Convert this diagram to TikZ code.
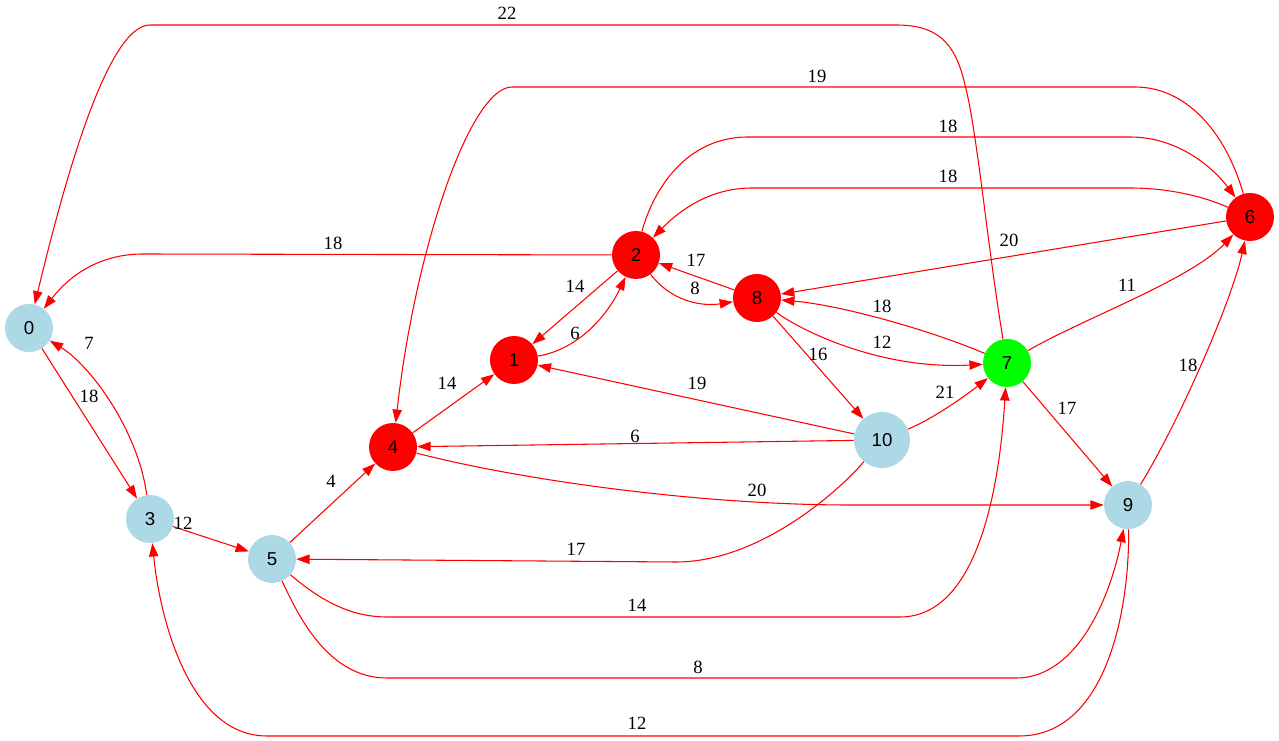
\documentclass[tikz,border=0pt]{standalone}
\usepackage{fontspec}
\setmainfont{Liberation Serif}
\newfontfamily\nodefont{Liberation Sans}
\usetikzlibrary{arrows.meta}
\definecolor{lblue}{HTML}{ADD8E6}
\definecolor{gvred}{HTML}{FF0000}
\definecolor{gvgreen}{HTML}{00FF00}
\tikzset{
  vtx/.style={circle, minimum size=36pt, inner sep=0pt, font=\nodefont\fontsize{14}{16}\selectfont},
  plain/.style={vtx, fill=lblue},
  hot/.style={vtx, fill=gvred},
  start/.style={vtx, fill=gvgreen},
  edge/.style={draw=gvred, line width=0.8pt, -{Triangle[length=10pt,width=7pt]}},
  lbl/.style={inner sep=0pt, font=\fontsize{14}{16}\selectfont}
}
\begin{document}
\begin{tikzpicture}[x=0.75pt, y=-0.75pt]
\useasboundingbox (0,0) rectangle (1279,741);
\fill[white] (0,0) rectangle (1279,741);

% vertices
\node[plain] (n0) at (29,328) {0};
\node[plain] (n3) at (150,519) {3};
\node[plain] (n5) at (272,559) {5};
\node[hot]   (n4) at (393,447) {4};
\node[hot]   (n1) at (514,360) {1};
\node[hot]   (n2) at (636,255) {2};
\node[hot]   (n8) at (757,298) {8};
\node[start] (n7) at (1007,363) {7};
\node[plain, minimum size=42pt] (n10) at (882,440) {10};
\node[plain] (n9) at (1128,505) {9};
\node[hot]   (n6) at (1250,217) {6};

% long routed edges
\draw[edge] (n7) .. controls (988,250) and (977,130) .. (965,85)
  .. controls (955,40) and (935,25) .. (896,25) -- (150,25)
  .. controls (105,25) and (60,200) .. (n0)
  node[lbl] at (507,13) {22};
\draw[edge] (n6) .. controls (1225,130) and (1185,87) .. (1135,87) -- (512,87)
  .. controls (470,87) and (415,250) .. (n4)
  node[lbl] at (817,76) {19};
\draw[edge] (n2) .. controls (650,200) and (680,137) .. (748,137) -- (1130,137)
  .. controls (1180,137) and (1215,170) .. (n6)
  node[lbl] at (948,126) {18};
\draw[edge] (n6) .. controls (1200,195) and (1165,188) .. (1130,188) -- (752,188)
  .. controls (710,188) and (680,210) .. (n2)
  node[lbl] at (948,176) {18};
\draw[edge] (n2) -- (143,254) .. controls (100,254) and (70,275) .. (n0)
  node[lbl] at (333,243) {18};

% edges around 2, 1 and 8
\draw[edge] (n6) -- (n8) node[lbl] at (1009,240) {20};
\draw[edge] (n2) -- (n1) node[lbl] at (575,286) {14};
\draw[edge] (n1) .. controls (575,350) and (605,320) .. (n2) node[lbl] at (575,333) {6};
\draw[edge] (n2) .. controls (670,300) and (700,307) .. (n8) node[lbl] at (695,288) {8};
\draw[edge] (n8) -- (n2) node[lbl] at (696,260) {17};
\draw[edge] (n10) -- (n1) node[lbl] at (697,383) {19};
\draw[edge] (n4) -- (n1) node[lbl] at (447,383) {14};

% edges around 7 and 10
\draw[edge] (n7) .. controls (930,330) and (840,305) .. (n8) node[lbl] at (882,306) {18};
\draw[edge] (n8) .. controls (800,330) and (880,370) .. (n7) node[lbl] at (882,342) {12};
\draw[edge] (n7) .. controls (1080,320) and (1190,280) .. (n6) node[lbl] at (1127,285) {11};
\draw[edge] (n8) -- (n10) node[lbl] at (818,354) {16};
\draw[edge] (n10) .. controls (930,420) and (960,400) .. (n7) node[lbl] at (945,392) {21};
\draw[edge] (n10) -- (n4) node[lbl] at (635,436) {6};
\draw[edge] (n4) .. controls (520,480) and (700,505) .. (850,505) -- (n9)
  node[lbl] at (757,490) {20};
\draw[edge] (n7) -- (n9) node[lbl] at (1067,408) {17};
\draw[edge] (n9) .. controls (1180,420) and (1232,300) .. (n6) node[lbl] at (1188,365) {18};

% edges around 0, 3 and 5
\draw[edge] (n0) -- (n3) node[lbl] at (89,396) {18};
\draw[edge] (n3) .. controls (138,430) and (90,365) .. (n0) node[lbl] at (89,343) {7};
\draw[edge] (n3) -- (n5) node[lbl] at (183,523) {12};
\draw[edge] (n5) -- (n4) node[lbl] at (331,481) {4};
\draw[edge] (n10) .. controls (840,490) and (760,562) .. (676,562) -- (n5)
  node[lbl] at (576,549) {17};
\draw[edge] (n5) .. controls (320,600) and (350,617) .. (387,617) -- (900,617)
  .. controls (980,617) and (1000,480) .. (n7)
  node[lbl] at (637,605) {14};
\draw[edge] (n5) .. controls (300,620) and (330,678) .. (387,678) -- (1016,678)
  .. controls (1080,678) and (1112,590) .. (n9)
  node[lbl] at (698,667) {8};
\draw[edge] (n9) .. controls (1130,600) and (1110,736) .. (1019,736) -- (267,736)
  .. controls (190,736) and (160,620) .. (n3)
  node[lbl] at (637,723) {12};
\end{tikzpicture}
\end{document}
